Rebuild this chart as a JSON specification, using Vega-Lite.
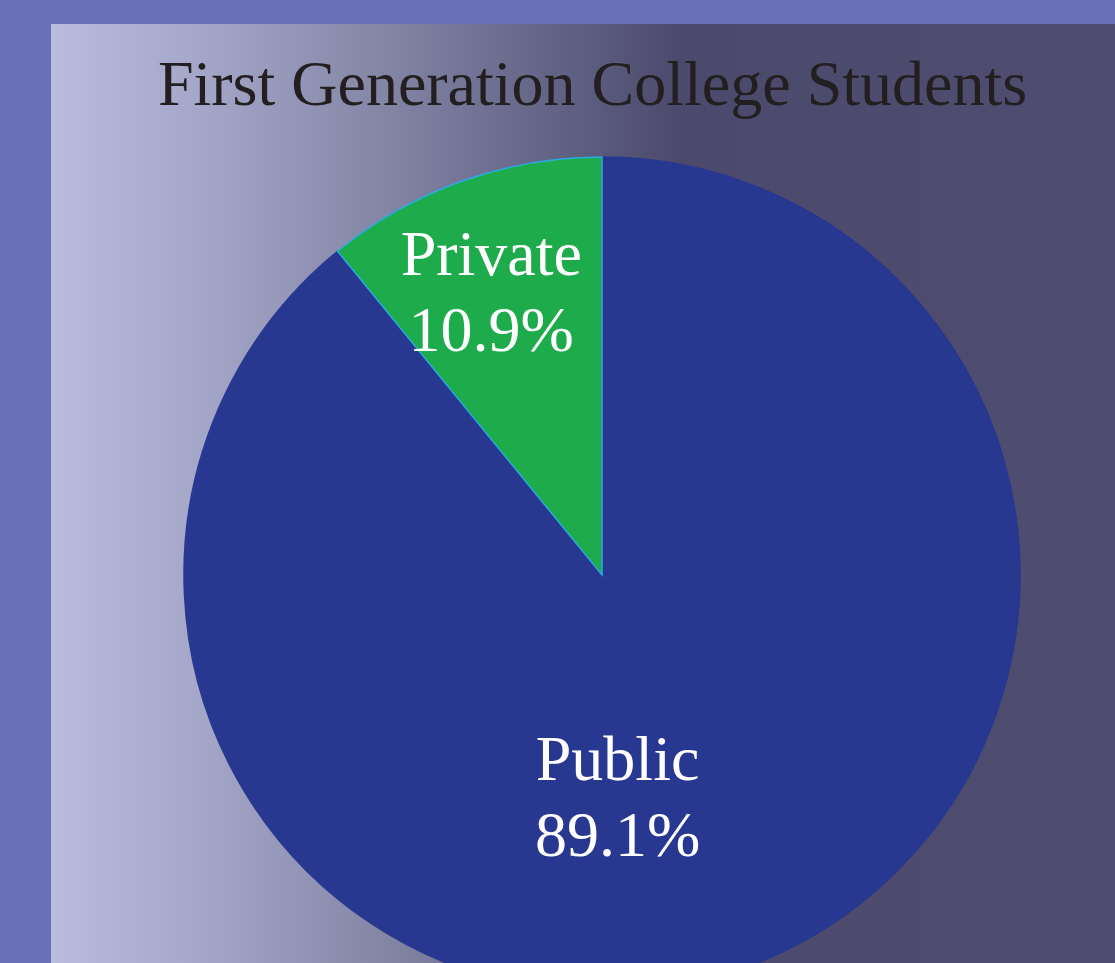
{
  "$schema": "https://vega.github.io/schema/vega-lite/v6.json",
  "width": 1102,
  "height": 1102,
  "autosize": {"type": "none"},
  "padding": {"left": 51, "top": 24, "right": -38, "bottom": -163},
  "background": "#6b71b6",
  "view": {
    "stroke": null,
    "fill": {
      "gradient": "linear",
      "x1": 0, "y1": 0, "x2": 1, "y2": 0,
      "stops": [
        {"offset": 0, "color": "#babcdd"},
        {"offset": 0.14, "color": "#a4a6c8"},
        {"offset": 0.3, "color": "#8486a6"},
        {"offset": 0.57, "color": "#4b4a6d"},
        {"offset": 1, "color": "#4f4e70"}
      ]
    }
  },
  "title": {
    "text": "First Generation College Students",
    "font": "Liberation Serif",
    "fontSize": 64,
    "fontWeight": "normal",
    "color": "#231f20",
    "anchor": "middle",
    "frame": "group",
    "baseline": "alphabetic",
    "offset": -145,
    "dx": -9.5
  },
  "data": {
    "values": [
      {"type": "Public", "share": 89.1, "label": "Public\n89.1%"},
      {"type": "Private", "share": 10.9, "label": "Private\n10.9%"}
    ]
  },
  "encoding": {
    "theta": {"field": "share", "type": "quantitative", "stack": true},
    "order": {"field": "share", "type": "quantitative", "sort": "descending"}
  },
  "layer": [
    {
      "mark": {"type": "arc", "radius": 418, "strokeWidth": 1.5},
      "encoding": {
        "color": {
          "field": "type",
          "type": "nominal",
          "scale": {"domain": ["Public", "Private"], "range": ["#283891", "#1eab4b"]},
          "legend": null
        },
        "stroke": {
          "field": "type",
          "type": "nominal",
          "scale": {"domain": ["Public", "Private"], "range": ["#283891", "#29abe2"]},
          "legend": null
        }
      }
    },
    {
      "mark": {
        "type": "text",
        "radius": 300,
        "dx": -10,
        "dy": -36,
        "font": "Liberation Serif",
        "fontSize": 64,
        "lineHeight": 76,
        "lineBreak": "\n",
        "align": "center",
        "baseline": "middle",
        "fill": "#ffffff"
      },
      "encoding": {
        "detail": {"field": "type", "type": "nominal"},
        "text": {
          "condition": {"test": "datum.type === 'Private'", "field": "label", "type": "nominal"},
          "value": ""
        }
      }
    },
    {
      "mark": {
        "type": "text",
        "radius": 225,
        "dx": -60,
        "dy": -26,
        "font": "Liberation Serif",
        "fontSize": 64,
        "lineHeight": 76,
        "lineBreak": "\n",
        "align": "center",
        "baseline": "middle",
        "fill": "#ffffff"
      },
      "encoding": {
        "detail": {"field": "type", "type": "nominal"},
        "text": {
          "condition": {"test": "datum.type === 'Public'", "field": "label", "type": "nominal"},
          "value": ""
        }
      }
    }
  ]
}
